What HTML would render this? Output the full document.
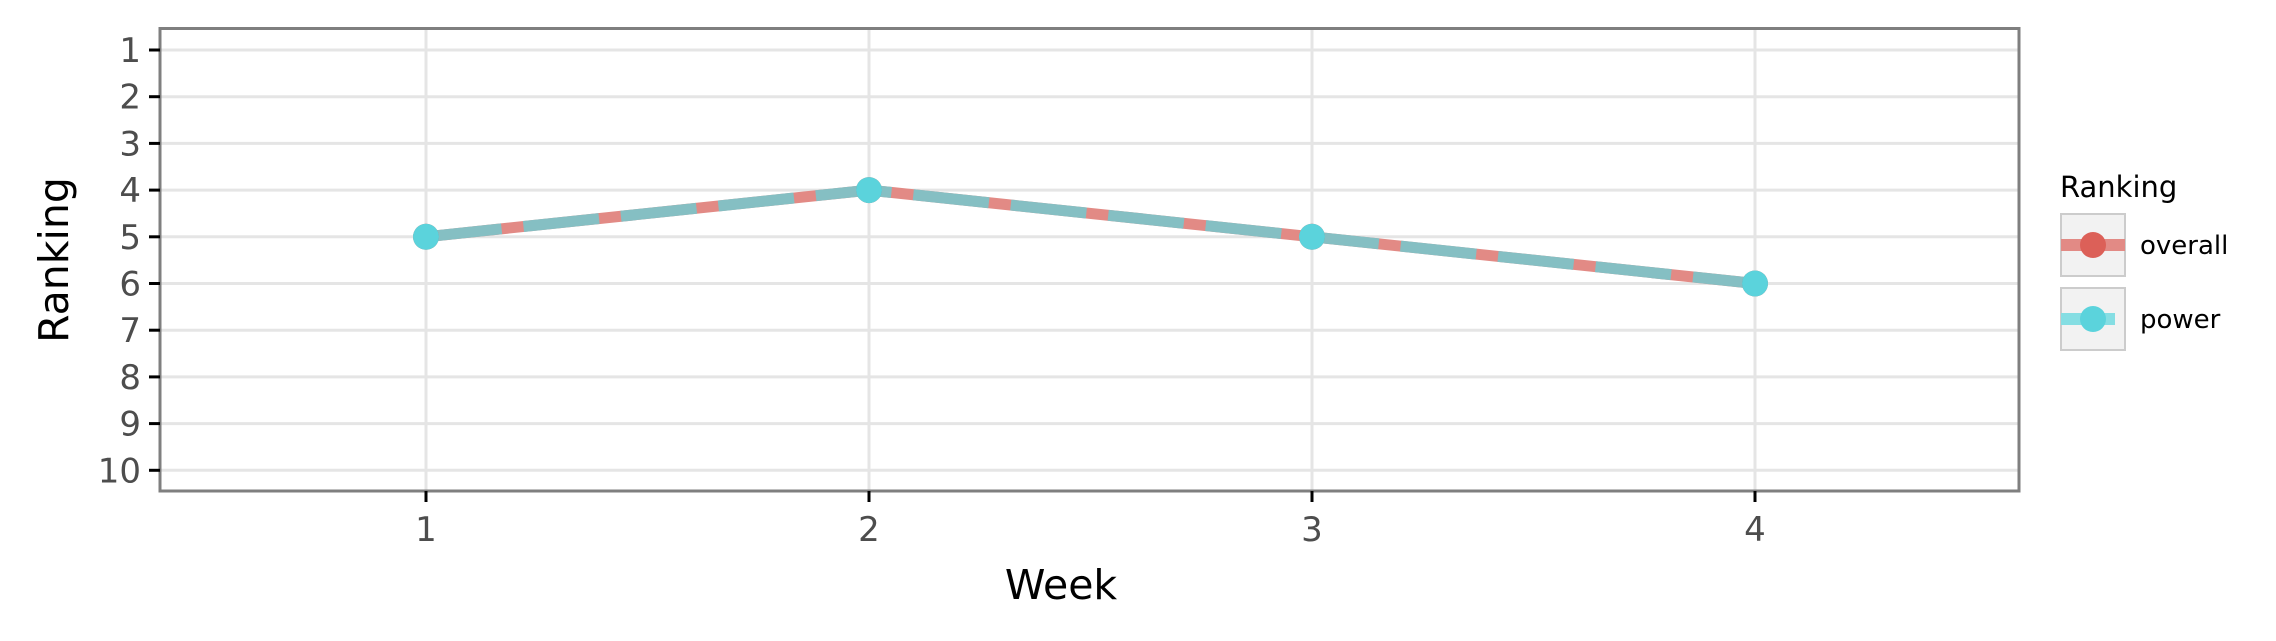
<!DOCTYPE html>
<html><head><meta charset="utf-8"><style>
body{margin:0;background:#fff;}
svg{display:block;font-family:"DejaVu Sans","Liberation Sans",sans-serif;}
</style></head><body>
<svg width="2276" height="641" xmlns="http://www.w3.org/2000/svg" id="chart">
<g id="grid"></g>
<g id="lines"></g>
<rect x="160" y="28.5" width="1859" height="462.5" fill="none" stroke="#7f7f7f" stroke-width="3"/>
<g id="ticks"></g>
<text x="1061" y="599" font-size="41" text-anchor="middle" fill="#000">Week</text>
<text transform="translate(68,260) rotate(-90)" font-size="41" text-anchor="middle" fill="#000">Ranking</text>
<g>
<text x="2060" y="197" font-size="29" fill="#000">Ranking</text>
<g>
<rect x="2061" y="214" width="64" height="62" fill="#f2f2f2" stroke="#cccccc" stroke-width="2"/>
<rect x="2061" y="239" width="64" height="12" fill="#e28a85"/>
<circle cx="2093" cy="245" r="13" fill="#dc6058"/>
<text x="2140" y="254" font-size="26" fill="#000">overall</text>
</g>
<g>
<rect x="2061" y="288" width="64" height="62" fill="#f2f2f2" stroke="#cccccc" stroke-width="2"/>
<rect x="2061" y="313" width="54" height="12" fill="#85dee3"/>
<circle cx="2093" cy="319" r="13" fill="#5bd3dc"/>
<text x="2140" y="328" font-size="26" fill="#000">power</text>
</g>
</g>
</svg>
<script>
const weeks = [1, 2, 3, 4];
const overallRank = [5, 4, 5, 6];
const powerRank = [5, 4, 5, 6];
const yTicks = [1,2,3,4,5,6,7,8,9,10];
const xTicks = [1,2,3,4];

const NS = "http://www.w3.org/2000/svg";
function xs(v){ return 426 + (v - 1) * 443; }
function ys(v){ return 50 + (v - 1) * 46.7; }
function mk(tag, attrs, parent){ const e = document.createElementNS(NS, tag); for (const k in attrs) e.setAttribute(k, attrs[k]); parent.appendChild(e); return e; }

const grid = document.getElementById('grid');
const ticks = document.getElementById('ticks');
yTicks.forEach(t => {
  const l = mk('line', {x1:160, x2:2019, y1:ys(t), y2:ys(t), stroke:'#e5e5e5', 'stroke-width':3}, grid);
  
  
  const tk = mk('line', {x1:149, x2:160, y1:ys(t), y2:ys(t), stroke:'#000', 'stroke-width':3}, ticks);
  
  
  const tx = mk('text', {x:141, y:ys(t)+12, 'font-size':34, fill:'#4d4d4d', 'text-anchor':'end'}, ticks);
  tx.textContent = t;
  
  
});
xTicks.forEach(t => {
  const l = mk('line', {x1:xs(t), x2:xs(t), y1:29, y2:491, stroke:'#e5e5e5', 'stroke-width':3}, grid);
  
  
  const tk = mk('line', {x1:xs(t), x2:xs(t), y1:491, y2:502, stroke:'#000', 'stroke-width':3}, ticks);
  
  
  const tx = mk('text', {x:xs(t), y:541, 'font-size':34, fill:'#4d4d4d', 'text-anchor':'middle'}, ticks);
  tx.textContent = t;
  
  
});

const lines = document.getElementById('lines');
function pts(arr){ return weeks.map((w,i) => xs(w) + ',' + ys(arr[i])).join(' '); }
const lo = mk('polyline', {points:pts(overallRank), fill:'none', stroke:'#e28a85', 'stroke-width':11}, lines);


const lp = mk('polyline', {points:pts(powerRank), fill:'none', stroke:'#85bfc3', 'stroke-width':11, 'stroke-dasharray':'76 22'}, lines);


weeks.forEach((w,i) => {
  const c = mk('circle', {cx:xs(w), cy:ys(overallRank[i]), r:13, fill:'#dc6058'}, lines);
  
  
});
weeks.forEach((w,i) => {
  const c = mk('circle', {cx:xs(w), cy:ys(powerRank[i]), r:13, fill:'#5bd3dc'}, lines);
  
  
});
</script>
</body></html>
